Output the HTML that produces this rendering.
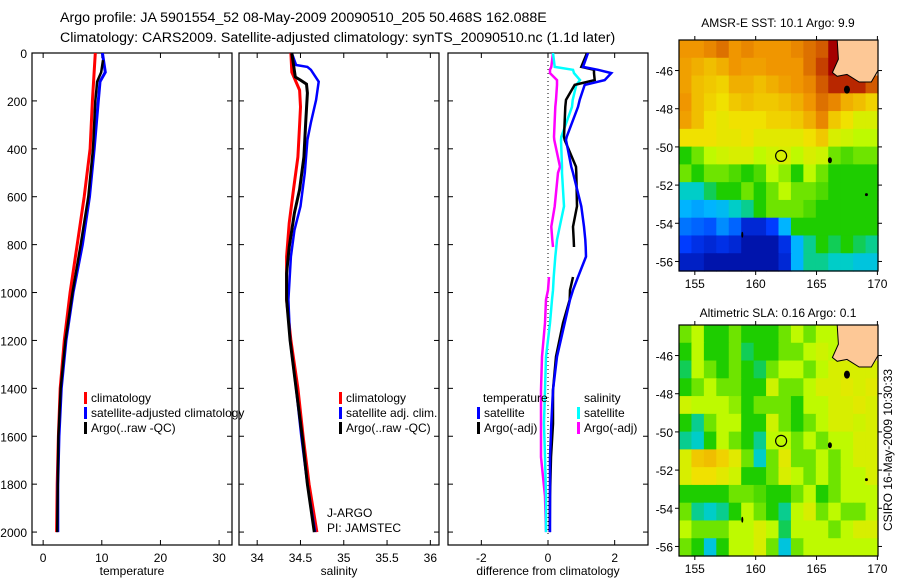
<!DOCTYPE html>
<html><head><meta charset="utf-8"><style>
body{margin:0;background:#fff;}
svg{display:block;font-family:"Liberation Sans",sans-serif;}
</style></head><body>
<svg id="fig" width="900" height="580" xmlns="http://www.w3.org/2000/svg">
<text x="60" y="22" font-size="14.2">Argo profile: JA 5901554_52 08-May-2009 20090510_205 50.468S 162.088E</text>
<text x="60" y="42" font-size="14.2">Climatology: CARS2009. Satellite-adjusted climatology: synTS_20090510.nc (1.1d later)</text>
<text x="778" y="27" font-size="12" text-anchor="middle">AMSR-E SST: 10.1 Argo: 9.9</text>
<text x="778" y="317" font-size="12" text-anchor="middle">Altimetric SLA: 0.16 Argo: 0.1</text>
<text transform="translate(892,450) rotate(-90)" font-size="12" text-anchor="middle">CSIRO 16-May-2009 10:30:33</text>
<text x="327" y="517" font-size="12">J-ARGO</text>
<text x="327" y="532" font-size="12">PI: JAMSTEC</text>
</svg>
<script>
// ---------- data ----------
const depthTicks=[0,200,400,600,800,1000,1200,1400,1600,1800,2000];
const tTicks=[0,10,20,30];
const sTicks=[34,34.5,35,35.5,36];
const dTicks=[-2,0,2];
const lonTicks=[155,160,165,170];
const latTicks=[-46,-48,-50,-52,-54,-56];

const tClimDepth=[0,200,400,600,800,1000,1200,1400,1600,1800,2000];
const tClim=[8.9,8.4,8.0,7.0,5.8,4.6,3.6,2.9,2.6,2.4,2.3];
const tSatDepth=[0,80,120,200,400,600,800,1000,1200,1400,1600,1800,2000];
const tSat=[10.1,10.6,9.7,9.4,8.7,7.9,6.7,5.1,3.9,3.1,2.7,2.5,2.5];
const tArgoDepth=[30,80,120,150,200,400,600,800,1000,1200,1400,1600,1800,2000];
const tArgo=[10.2,9.9,9.2,9.1,8.9,8.5,7.7,6.4,5.0,3.8,3.0,2.6,2.5,2.4];

const sClimDepth=[0,80,155,225,300,434,570,710,850,1030,1200,1400,1600,1800,2000];
const sClim=[34.39,34.40,34.49,34.50,34.49,34.47,34.42,34.37,34.34,34.34,34.39,34.47,34.53,34.60,34.69];
const sSatDepth=[0,50,58,70,120,196,290,363,500,640,740,850,1030,1200,1400,1600,1800,2000];
const sSat=[34.40,34.45,34.58,34.62,34.71,34.68,34.62,34.58,34.55,34.50,34.43,34.39,34.36,34.38,34.45,34.51,34.58,34.67];
const sArgoDepth=[0,100,113,130,167,290,434,570,668,810,920,1030,1200,1400,1600,1800,2000];
const sArgo=[34.40,34.44,34.50,34.57,34.58,34.56,34.54,34.49,34.43,34.37,34.34,34.34,34.38,34.45,34.52,34.58,34.66];

const dDepth=[0,58,70,84,113,133,196,225,350,363,475,500,640,725,780,810,850,935,990,1030,1127,1268,1407,1548,1687,1850,2000];
const dTempSat=[1.2,1.05,1.5,1.9,1.7,1.1,0.95,0.9,0.56,0.54,0.7,0.75,1.0,1.08,1.12,1.13,1.14,0.9,0.75,0.66,0.5,0.27,0.15,0.1,0.06,0.06,0.06];
const dTempArgo=[1.17,1.0,1.38,1.38,1.4,0.8,0.54,0.52,0.48,0.5,0.84,0.85,0.87,0.75,0.77,0.78,null,0.75,0.66,0.65,0.45,0.24,0.15,0.15,0.09,0.06,0.05];
const dSalSat=[0.15,0.2,0.75,0.78,0.96,0.85,0.74,0.72,0.4,0.39,0.42,0.42,0.48,0.35,0.27,0.25,0.22,0.17,0.15,0.12,0.06,-0.06,-0.09,-0.12,-0.09,-0.06,-0.06];
const dSalArgo=[0.15,0.1,0.06,0.06,0.27,0.27,0.24,0.22,0.18,0.19,0.36,0.3,0.2,0.1,0.13,0.15,null,0.03,0.0,-0.06,-0.09,-0.18,-0.21,-0.21,-0.21,-0.09,-0.06];

// colour fractions, 13 rows (north->south) x 16 cols (west->east); -1 = land
const sstGrid=[
[.8,.8,.82,.85,.8,.82,.8,.8,.8,.82,.85,.88,.95,.95,-1,-1],
[.78,.75,.72,.75,.8,.78,.78,.8,.8,.8,.85,.9,.95,.95,-1,-1],
[.78,.72,.7,.68,.75,.75,.72,.75,.78,.8,.82,.88,.92,.92,.92,.88],
[.8,.72,.68,.65,.7,.72,.7,.7,.72,.75,.8,.85,.82,.75,.72,.68],
[.78,.72,.65,.63,.65,.65,.65,.68,.68,.7,.75,.82,.7,.65,.6,.6],
[.65,.65,.65,.63,.63,.65,.62,.62,.62,.62,.65,.7,.6,.58,.55,.55],
[.45,.5,.55,.58,.6,.6,.55,.58,.6,.55,.6,.58,.5,.48,.5,.5],
[.5,.45,.5,.5,.48,.45,.48,.55,.52,.45,.55,.5,.45,.45,.45,.45],
[.38,.38,.42,.45,.45,.5,.45,.5,.55,.5,.5,.48,.45,.45,.45,.45],
[.3,.28,.3,.32,.38,.4,.45,.5,.5,.5,.48,.45,.45,.45,.45,.45],
[.22,.2,.18,.25,.2,.1,.1,.15,.3,.45,.45,.45,.45,.45,.45,.45],
[.15,.12,.1,.12,.1,.05,.05,.05,.12,.3,.4,.45,.42,.45,.42,.4],
[.08,.08,.05,.05,.05,.05,.05,.05,.1,.3,.4,.4,.38,.38,.35,.35]];
const slaGrid=[
[.5,.55,.45,.45,.5,.45,.45,.45,.5,.55,.5,.55,.55,.6,-1,-1],
[.45,.55,.45,.45,.5,.42,.45,.45,.5,.5,.55,.58,.55,-1,-1,-1],
[.42,.55,.5,.45,.5,.45,.42,.5,.55,.55,.5,.55,.6,.6,.6,.6],
[.45,.5,.55,.5,.5,.45,.45,.58,.5,.5,.55,.6,.6,.62,.6,.62],
[.58,.55,.55,.55,.52,.45,.5,.5,.5,.45,.55,.55,.6,.6,.62,.6],
[.45,.4,.5,.55,.55,.45,.45,.58,.5,.45,.5,.55,.6,.6,.58,.6],
[.4,.38,.45,.55,.5,.45,.4,.55,.55,.5,.55,.5,.55,.55,.6,.6],
[.6,.7,.72,.68,.62,.5,.38,.5,.62,.5,.5,.55,.5,.55,.6,.6],
[.6,.65,.65,.62,.58,.45,.45,.5,.6,.55,.5,.55,.5,.55,.55,.6],
[.45,.45,.45,.45,.5,.5,.48,.45,.45,.5,.55,.45,.5,.55,.55,.55],
[.5,.4,.38,.4,.45,.55,.5,.45,.4,.55,.6,.5,.55,.5,.5,.55],
[.55,.5,.5,.5,.55,.55,.6,.55,.42,.55,.55,.55,.5,.55,.6,.6],
[.5,.45,.35,.45,.55,.55,.6,.5,.35,.5,.55,.55,.55,.55,.55,.55]];
const landLon=[166.7,166.8,166.3,166.7,167.5,168.5,169.5,170.05,170.05];
const landLat=[-44.4,-45.4,-46.1,-46.3,-46.2,-46.6,-46.6,-46.0,-44.4];
const argoLon=162.09, argoLat=-50.47;

// ---------- drawing ----------
const svg=document.getElementById('fig');
const NS='http://www.w3.org/2000/svg';
function mk(tag,attrs,parent){const e=document.createElementNS(NS,tag);for(const k in attrs)e.setAttribute(k,attrs[k]);(parent||svg).appendChild(e);return e;}
const Y0=53,YB=545;
const yD=d=>Y0+(d/2054)*(YB-Y0);

function panel(name,x0,x1,xmin,xmax,ticks,label,showY){
  const g=mk('g',{});
  
  
  const xs=v=>x0+(v-xmin)/(xmax-xmin)*(x1-x0);
  const cp=mk('clipPath',{id:'clip-'+name},g);mk('rect',{x:x0,y:Y0,width:x1-x0,height:YB-Y0},cp);
  const frame=mk('rect',{x:x0,y:Y0,width:x1-x0,height:YB-Y0,fill:'none',stroke:'#000','stroke-width':1.2},g);
  
  
  ticks.forEach(t=>{const x=xs(t);
    mk('line',{x1:x,x2:x,y1:YB,y2:YB-5,stroke:'#000'},g);mk('line',{x1:x,x2:x,y1:Y0,y2:Y0+5,stroke:'#000'},g);
    const tl=mk('text',{x:x,y:YB+17,'font-size':12,'text-anchor':'middle'},g);tl.textContent=String(t);
    
    });
  depthTicks.forEach(d=>{const y=yD(d);
    mk('line',{x1:x0,x2:x0+5,y1:y,y2:y,stroke:'#000'},g);mk('line',{x1:x1,x2:x1-5,y1:y,y2:y,stroke:'#000'},g);
    if(showY){const tl=mk('text',{x:27,y:y+5,'font-size':12,'text-anchor':'end'},g);tl.textContent=String(d);
      
      }});
  const xl=mk('text',{x:(x0+x1)/2,y:575,'font-size':12,'text-anchor':'middle'},g);xl.textContent=label;
  
  
  return {g,xs,clip:'url(#clip-'+name+')'};
}
function line(p,depths,vals,color,w,name){
  let d='',pen=false;
  depths.forEach((dp,i)=>{const v=vals[i];if(v===null||v===undefined){pen=false;return;}
    d+=(pen?'L':'M')+p.xs(v).toFixed(1)+','+yD(dp).toFixed(1);pen=true;});
  const e=mk('path',{d:d,fill:'none',stroke:color,'stroke-width':w,'clip-path':p.clip},p.g);
  
  
}
function legend(p,x,y,color,text,name){
  if(color)mk('rect',{x:x-7,y:y-10,width:3,height:12,fill:color},p.g);
  const t=mk('text',{x:x,y:y,'font-size':12},p.g);t.textContent=text;
  
  
}

const p1=panel('temperature-panel',32,232,-1.9,32.2,tTicks,'temperature',true);
line(p1,tClimDepth,tClim,'#f00',3,'temp-climatology-line');
line(p1,tSatDepth,tSat,'#00f',3,'temp-satellite-line');
line(p1,tArgoDepth,tArgo,'#000',2.5,'temp-argo-line');
legend(p1,91,402,'#f00','climatology','legend-climatology');
legend(p1,91,417,'#00f','satellite-adjusted climatology','legend-satellite-adjusted');
legend(p1,91,432,'#000','Argo(..raw -QC)','legend-argo');

const p2=panel('salinity-panel',239,439,33.79,36.1,sTicks,'salinity',false);
line(p2,sClimDepth,sClim,'#f00',3,'sal-climatology-line');
line(p2,sSatDepth,sSat,'#00f',2.5,'sal-satellite-line');
line(p2,sArgoDepth,sArgo,'#000',3,'sal-argo-line');
legend(p2,346,402,'#f00','climatology','legend-climatology');
legend(p2,346,417,'#00f','satellite adj. clim.','legend-satellite-adj');
legend(p2,346,432,'#000','Argo(..raw -QC)','legend-argo');

const p3=panel('difference-panel',448,648,-3,3,dTicks,'difference from climatology',false);
mk('line',{x1:p3.xs(0),x2:p3.xs(0),y1:Y0,y2:yD(2010),stroke:'#000','stroke-dasharray':'1,3'},p3.g);
line(p3,dDepth,dSalArgo,'#f0f',2.5,'diff-salinity-argo-line');
line(p3,dDepth,dSalSat,'#0ff',2.5,'diff-salinity-satellite-line');
line(p3,dDepth,dTempArgo,'#000',2.5,'diff-temperature-argo-line');
line(p3,dDepth,dTempSat,'#00f',2.5,'diff-temperature-satellite-line');
legend(p3,483,402,null,'temperature','legend-temperature-header');
legend(p3,484,417,'#00f','satellite','legend-temp-satellite');
legend(p3,484,432,'#000','Argo(-adj)','legend-temp-argo');
legend(p3,584,402,null,'salinity','legend-salinity-header');
legend(p3,584,417,'#0ff','satellite','legend-sal-satellite');
legend(p3,584,432,'#f0f','Argo(-adj)','legend-sal-argo');

const cStops=[0,0.15,0.3,0.38,0.45,0.55,0.65,0.8,0.88,0.95,1];
const cCols=[[0,0,130],[0,60,255],[0,180,255],[0,205,200],[30,205,0],[190,250,0],[240,225,0],[240,150,0],[210,90,0],[165,0,0],[140,0,0]];
function cmap(v){
  for(let i=1;i<cStops.length;i++){if(v<=cStops[i]){const f=(v-cStops[i-1])/(cStops[i]-cStops[i-1]);
    const a=cCols[i-1],b=cCols[i];return 'rgb('+a.map((x,k)=>Math.round(x+(b[k]-x)*f)).join(',')+')';}}
  return 'rgb(140,0,0)';
}
function map(name,grid,y0,y1){
  const x0=679,x1=878,lon0=153.7,lon1=170.05,lat0=-44.4,lat1=-56.5;
  const xs=l=>x0+(l-lon0)/(lon1-lon0)*(x1-x0);
  const ys=l=>y0+(l-lat0)/(lat1-lat0)*(y1-y0);
  const g=mk('g',{});
  
  
  const rows=grid.length,cols=grid[0].length,cw=(x1-x0)/cols,ch=(y1-y0)/rows;
  grid.forEach((row,i)=>row.forEach((v,j)=>{
    const r=mk('rect',{x:x0+j*cw,y:y0+i*ch,width:cw+0.6,height:ch+0.6,fill:v<0?'#fdc896':cmap(v)},g);
    
    }));
  let pd='';landLon.forEach((l,i)=>{pd+=(i?'L':'M')+xs(l).toFixed(1)+','+ys(landLat[i]).toFixed(1);});
  const land=mk('path',{d:pd+'Z',fill:'#fdc896',stroke:'#000','stroke-width':1},g);
  
  
  mk('ellipse',{cx:xs(167.5),cy:ys(-47.0),rx:3,ry:4,fill:'#000'},g);
  mk('ellipse',{cx:xs(166.1),cy:ys(-50.7),rx:2,ry:3,fill:'#000'},g);
  mk('ellipse',{cx:xs(169.1),cy:ys(-52.5),rx:1.5,ry:1.5,fill:'#000'},g);
  mk('ellipse',{cx:xs(158.9),cy:ys(-54.6),rx:1,ry:3,fill:'#000'},g);
  const c=mk('circle',{cx:xs(argoLon),cy:ys(argoLat),r:5.5,fill:'none',stroke:'#000','stroke-width':1.2},g);
  
  
  mk('rect',{x:x0,y:y0,width:x1-x0,height:y1-y0,fill:'none',stroke:'#000','stroke-width':1.2},g);
  lonTicks.forEach(l=>{const x=xs(l);
    mk('line',{x1:x,x2:x,y1:y1,y2:y1+4,stroke:'#000'},g);mk('line',{x1:x,x2:x,y1:y0,y2:y0-4,stroke:'#000'},g);
    const t=mk('text',{x:x,y:y1+17,'font-size':12,'text-anchor':'middle'},g);t.textContent=String(l);
    
    });
  latTicks.forEach(l=>{const y=ys(l);
    mk('line',{x1:x0,x2:x0-4,y1:y,y2:y,stroke:'#000'},g);mk('line',{x1:x1,x2:x1+4,y1:y,y2:y,stroke:'#000'},g);
    const t=mk('text',{x:x0-6,y:y+5,'font-size':12,'text-anchor':'end'},g);t.textContent=String(l);
    
    });
}
map('sst-map',sstGrid,40,271);
map('sla-map',slaGrid,325,556);
</script>
</body></html>
